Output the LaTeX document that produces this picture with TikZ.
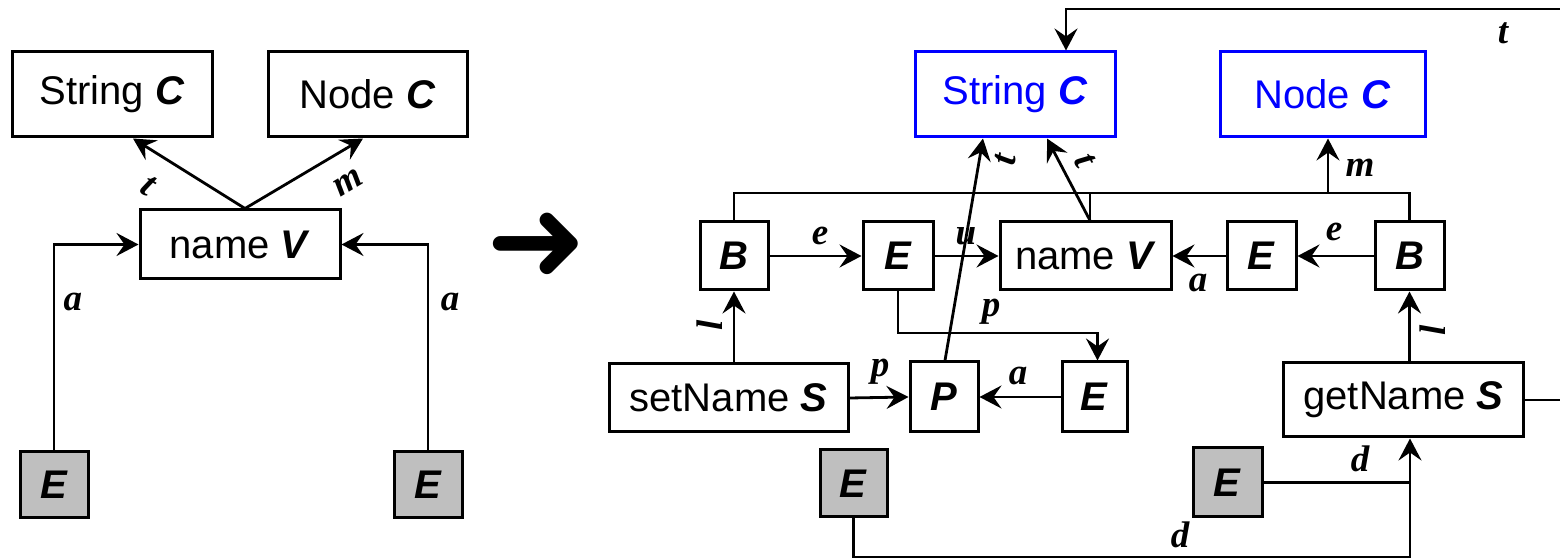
\documentclass[tikz,border=0pt]{standalone}
\usepackage{fontspec}
\setmainfont{Liberation Serif}
\setsansfont{Liberation Sans}
\newfontfamily\symfont{DejaVu Sans}
\usetikzlibrary{arrows.meta,calc}

\tikzset{
  px/.style={x=0.5pt,y=-0.5pt},
  wh/.style 2 args={minimum width=#1*0.5pt,minimum height=#2*0.5pt},
  box/.style={draw,line width=1.5pt,inner sep=0pt,fill=white,
    font=\sffamily\fontsize{20}{23}\selectfont},
  cls/.style={box,draw=blue,text=blue},
  ext/.style={box,fill=black!25},
  conn/.style={line width=1.4pt},
  arr/.style={conn,-{Stealth[length=11pt,width=11.5pt,inset=4pt]}},
  lbl/.style={font=\fontsize{18.5}{20}\selectfont\bfseries\itshape,inner sep=0pt},
}
\newcommand{\ty}[1]{\textbf{\textit{#1}}}

\begin{document}
\begin{tikzpicture}[px]
\useasboundingbox (0,0) rectangle (1560,560);
\clip (0,0) rectangle (1560,560);

% ---------- left: the field before the rewrite ----------
\node[box,wh={200}{85}] (strL) at (112,94.5) {String \ty{C}};
\node[box,wh={199}{85}] (nodL) at (367.5,94.5) {Node \ty{C}};
\node[box,wh={200}{69}] (nameL) at (240,244.5) {name \ty{V}};
\node[ext,wh={68}{66}] (eL1) at (54,485) {\ty{E}};
\node[ext,wh={68}{66}] (eL2) at (428,485) {\ty{E}};

\draw[arr] ([xshift=2.5pt]nameL.north) -- ([xshift=10.5pt]strL.south);
\draw[arr] ([xshift=2.5pt]nameL.north) -- ([xshift=-2.25pt]nodL.south);
\draw[arr] (eL1.north) |- (nameL.west);
\draw[arr] (eL2.north) |- (nameL.east);

\node[lbl,rotate=-33] (tL) at (148,186) {t};
\node[lbl,rotate=31] (mL) at (348,183) {m};
\node[lbl] (aL1) at (73,302) {a};
\node[lbl] (aL2) at (450,302) {a};

% ---------- transformation arrow ----------
\node[inner sep=0pt,font=\symfont\fontsize{60}{60}\selectfont] (go) at (537,247) {➜};

% ---------- right: the field after the rewrite ----------
\node[cls,wh={200}{85}] (strR) at (1015,94.5) {String \ty{C}};
\node[cls,wh={205}{85}] (nodR) at (1322.5,94.5) {Node \ty{C}};

\node[box,wh={68}{68}] (bL) at (734,256) {\ty{B}};
\node[box,wh={70}{68}] (e1) at (898,256) {\ty{E}};
\node[box,wh={171}{68}] (nameR) at (1085.5,256) {name \ty{V}};
\node[box,wh={69}{68}] (e2) at (1261.5,256) {\ty{E}};
\node[box,wh={69}{68}] (bR) at (1409.5,256) {\ty{B}};

\node[box,wh={239}{68}] (setN) at (728.5,398) {setName \ty{S}};
\node[box,wh={68}{70}] (pP) at (944,397) {\ty{P}};
\node[box,wh={65}{70}] (e3) at (1094.5,397) {\ty{E}};
\node[box,wh={240}{74}] (getN) at (1403.5,400) {getName \ty{S}};

\node[ext,wh={67}{67}] (gE1) at (853.5,483.5) {\ty{E}};
\node[ext,wh={69}{69}] (gE2) at (1227.5,482.5) {\ty{E}};

% routing points
\coordinate (bus) at (1328,193);
\coordinate (pbend) at (901,333);
\coordinate (dbot) at (1410,557);
\coordinate (tloop) at (1600,9);

% bus joining both B nodes and name to Node
\draw[conn] (bL.north) -- (bL.north |- bus) -- (bR.north |- bus) -- (bR.north);
\draw[conn] ([xshift=2.25pt]nameR.north) -- ([xshift=2.25pt]nameR.north |- bus);
\draw[arr] (bus) -- (bus |- nodR.south);

% main row
\draw[arr] (bL.east) -- (e1.west);
\draw[arr] (e1.east) -- (nameR.west);
\draw[arr] (bR.west) -- (e2.east);
\draw[arr] (e2.west) -- (nameR.east);

% links to String
\draw[arr] ([xshift=0.5pt]pP.north) -- ([xshift=-16pt]strR.south);
\draw[arr] ([xshift=2.25pt]nameR.north) -- ([xshift=16pt]strR.south);

% setter side
\draw[arr] (bL.south |- setN.north) -- (bL.south);
\draw[arr] (setN.east) -- (pP.west);
\draw[arr] (e3.west) -- (pP.east);
\draw[arr] (e1.south) |- (pbend) -| ([xshift=1.5pt]e3.north);

% getter side
\draw[arr] (bR.south |- getN.north) -- (bR.south);
\draw[arr] (gE1.south) |- (dbot) -- (dbot |- getN.south);
\draw[conn] (gE2.east) -- (dbot |- gE2.east);
\draw[arr] (getN.east) -| (tloop) -| ([xshift=25.5pt]strR.north);

% edge labels
\node[lbl] (eA) at (820,236) {e};
\node[lbl] (uA) at (966,236) {u};
\node[lbl] (eB) at (1334,232) {e};
\node[lbl] (aB) at (1198,283) {a};
\node[lbl] (mB) at (1360,168) {m};
\node[lbl,rotate=80] (tB) at (1005,160) {t};
\node[lbl,rotate=-63] (tC) at (1085,160) {t};
\node[lbl,rotate=90] (lB) at (710,325) {l};
\node[lbl,rotate=90] (lC) at (1433,330) {l};
\node[lbl] (pB) at (991,312) {p};
\node[lbl] (pC) at (880,372) {p};
\node[lbl] (aC) at (1018,376) {a};
\node[lbl] (dB) at (1360,459) {d};
\node[lbl] (dC) at (1180,535) {d};
\node[lbl] (tD) at (1503,33) {t};
\end{tikzpicture}
\end{document}
